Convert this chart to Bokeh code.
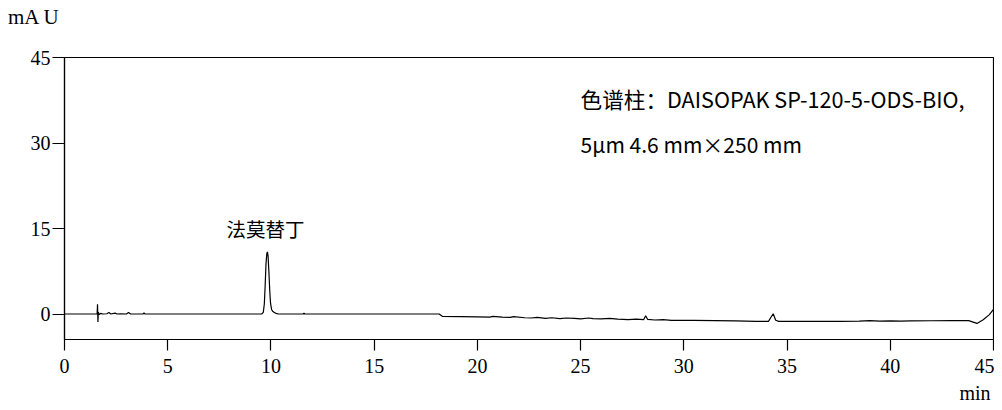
from bokeh.plotting import figure
from bokeh.models import Range1d, FixedTicker, Label, ColumnDataSource, Title, Div
from bokeh.layouts import column
from bokeh.embed import file_html
from bokeh.resources import INLINE

# Chromatogram trace (retention time in min, absorbance in mAU)
time_min = [
    0.00, 1.50, 1.58, 1.60, 1.62, 1.64, 1.68, 1.75, 1.85, 2.05, 2.15, 2.25, 2.45, 2.55,
    2.70, 3.00, 3.10, 3.20, 3.80, 3.85, 3.90,
    9.55, 9.63, 9.68, 9.72, 9.76, 9.80, 9.83, 9.86, 9.90, 9.94, 9.98, 10.03, 10.08,
    10.15, 10.25, 10.35,
    11.55, 11.60, 11.65,
    18.15, 18.30, 19.20, 20.00, 20.60, 20.75, 21.20, 21.60, 21.75, 22.30, 22.60,
    22.90, 23.30, 23.60, 24.00, 24.30, 24.70, 25.00, 25.40, 25.60, 26.00, 26.40,
    26.80, 27.30, 27.70, 28.05, 28.15, 28.25, 28.60, 29.00, 29.40, 30.50, 31.50,
    32.50, 33.50, 34.10, 34.25, 34.33, 34.45, 34.60, 35.50, 36.50, 37.50, 38.50,
    39.00, 39.50, 40.00, 40.50, 41.00, 42.00, 43.00, 43.80, 44.20, 44.50, 44.80,
    45.00,
]
signal_mau = [
    0.00, 0.00, 0.05, 1.70, -1.40, 0.30, -0.10, 0.10, 0.00, 0.05, 0.25, 0.00, 0.15, 0.00,
    0.05, 0.00, 0.25, 0.00, 0.00, 0.20, 0.00,
    0.00, 0.30, 1.80, 5.00, 8.80, 10.60, 10.90, 10.20, 7.50, 4.20, 1.90, 0.80, 0.50,
    0.30, 0.10, 0.00,
    0.00, 0.15, 0.00,
    0.00, -0.40, -0.45, -0.50, -0.55, -0.40, -0.55, -0.60, -0.45, -0.65, -0.70,
    -0.60, -0.75, -0.65, -0.80, -0.70, -0.75, -0.85, -0.70, -0.80, -0.85, -0.75,
    -0.90, -1.00, -0.90, -1.00, -0.30, -0.95, -1.05, -1.00, -1.10, -1.10, -1.15,
    -1.20, -1.28, -1.28, -0.40, 0.05, -1.10, -1.28, -1.30, -1.28, -1.30, -1.25,
    -1.15, -1.25, -1.20, -1.25, -1.20, -1.18, -1.15, -1.15, -1.65, -1.00, -0.10,
    0.80,
]

x_ticks = [0, 5, 10, 15, 20, 25, 30, 35, 40, 45]
y_ticks = [0, 15, 30, 45]

peak_name = "法莫替丁"
column_line1 = "色谱柱：DAISOPAK SP-120-5-ODS-BIO,"
column_line2 = "5μm 4.6 mm×250 mm"

serif = "Liberation Serif"
cjk = "Noto Sans CJK SC"

unit_label = Div(text="mA U", width=120, height=24, margin=(5, 0, 0, 8),
                 styles={"font-family": serif, "font-size": "21px", "line-height": "24px",
                         "color": "black", "white-space": "nowrap"})

p = figure(width=994, height=381, output_backend="svg", toolbar_location=None,
           x_range=Range1d(0, 45), y_range=Range1d(-4.47, 45),
           min_border_left=64, min_border_right=1, min_border_top=28, min_border_bottom=71)
p.background_fill_color = "white"
p.border_fill_color = "white"
p.outline_line_color = "black"
p.outline_line_width = 1.2
p.xgrid.visible = False
p.ygrid.visible = False

src = ColumnDataSource(dict(t=time_min, v=signal_mau))
p.line("t", "v", source=src, line_color="black", line_width=1.2)

for ax in (p.xaxis[0], p.yaxis[0]):
    ax.axis_line_color = "black"
    ax.axis_line_width = 1.2
    ax.major_tick_line_color = "black"
    ax.major_tick_line_width = 1.2
    ax.major_tick_in = 0
    ax.minor_tick_line_color = None
    ax.major_label_text_font = serif
    ax.major_label_text_font_size = "20px"
    ax.major_label_text_color = "black"

p.xaxis[0].ticker = FixedTicker(ticks=x_ticks)
p.xaxis[0].major_tick_out = 11
p.xaxis[0].major_label_standoff = 8
p.yaxis[0].ticker = FixedTicker(ticks=y_ticks)
p.yaxis[0].major_tick_out = 12
p.yaxis[0].major_label_standoff = 2

p.add_layout(Title(text="min", align="right", offset=3, standoff=8,
                   text_font=serif, text_font_size="20px", text_font_style="normal",
                   text_color="black"), "below")

p.add_layout(Label(x=9.74, y=15.0, text=peak_name, text_font=cjk, text_font_size="19.5px",
                   text_align="center", text_baseline="middle", text_color="black"))
p.add_layout(Label(x=25.0, y=37.8, text=column_line1, text_font=cjk, text_font_size="21.6px",
                   text_align="left", text_baseline="middle", text_color="black"))
p.add_layout(Label(x=25.0, y=29.8, text=column_line2, text_font=cjk, text_font_size="21px",
                   text_align="left", text_baseline="middle", text_color="black"))

page = column(unit_label, p, spacing=0)
open("out.html", "w").write(file_html(page, INLINE))
